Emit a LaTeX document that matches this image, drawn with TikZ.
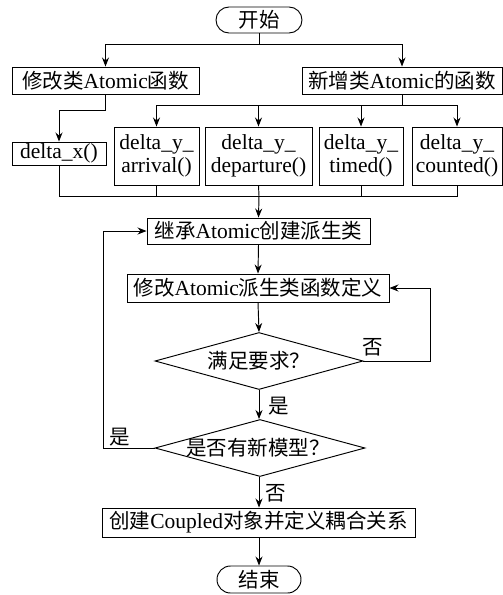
\documentclass[tikz,border=0pt]{standalone}
\usepackage{fontspec}
\setmainfont{Liberation Serif}
\newfontfamily\cjkfont{Noto Sans CJK SC}
\newcommand\zhtxt[1]{{\cjkfont\fontsize{20.5}{24}\selectfont #1}}
\usetikzlibrary{shapes.geometric,shapes.misc,arrows.meta}
\begin{document}
\begin{tikzpicture}[x=1pt,y=-1pt,line width=0.95pt,
  every node/.style={font=\fontsize{21.5}{23.5}\selectfont, inner sep=0pt},
  box/.style={draw, rectangle, align=center},
  term/.style={draw, rounded rectangle, minimum width=86pt, minimum height=26pt},
  dia/.style={draw, diamond, minimum width=208pt, minimum height=57pt},
  lbl/.style={font=\fontsize{20}{24}\selectfont},
  arr/.style={-{Stealth[length=9pt,width=7pt]}}
]
\fill[white] (0,0) rectangle (503,595);
\useasboundingbox (0,0) rectangle (503,595);

% nodes
\node[term] (start) at (259,20) {\zhtxt{开始}};
\node[box, minimum width=187pt, minimum height=27pt] (m1) at (105.5,80.5) {\zhtxt{修改类}Atomic\zhtxt{函数}};
\node[box, minimum width=200pt, minimum height=27pt] (m2) at (402,80.5) {\zhtxt{新增类}Atomic\zhtxt{的函数}};
\node[box, minimum width=94pt, minimum height=23pt] (dx) at (59,153.5) {delta\_x()};
\node[box, minimum width=85pt, minimum height=58pt] (a) at (156.5,156) {delta\_y\_\\arrival()};
\node[box, minimum width=107pt, minimum height=58pt] (d) at (258.5,156) {delta\_y\_\\departure()};
\node[box, minimum width=84pt, minimum height=58pt] (t) at (361,156) {delta\_y\_\\timed()};
\node[box, minimum width=90pt, minimum height=58pt] (c) at (457,156) {delta\_y\_\\counted()};
\node[box, minimum width=223pt, minimum height=26pt] (inh) at (258.5,231) {\zhtxt{继承}Atomic\zhtxt{创建派生类}};
\node[box, minimum width=262pt, minimum height=28pt] (mod) at (258,288) {\zhtxt{修改}Atomic\zhtxt{派生类函数定义}};
\node[dia] (d1) at (259,361) {};
\node (d1t) at (259,361) {\zhtxt{满足要求？}};
\node[dia, minimum width=210pt] (d2) at (260,448) {};
\node (d2t) at (258,448) {\zhtxt{是否有新模型？}};
\node[box, minimum width=313pt, minimum height=29pt] (cp) at (258.5,522.5) {\zhtxt{创建}Coupled\zhtxt{对象并定义耦合关系}};
\node[term, minimum width=84pt, minimum height=27pt] (end) at (259,579.5) {\zhtxt{结束}};

% labels
\node[lbl] (no1) at (373,347) {\zhtxt{否}};
\node[lbl] (yes1) at (279,406) {\zhtxt{是}};
\node[lbl] (yes2) at (120,437) {\zhtxt{是}};
\node[lbl] (no2) at (276,493) {\zhtxt{否}};

% junction coordinates
\coordinate (b1) at (259,44);
\coordinate (b2) at (402,105);
\coordinate (b3) at (259,196);
\coordinate (r1) at (430,361);
\coordinate (l1) at (103,448);

% connectors
\draw (start.south) -- (b1);
\draw[arr] (b1) -| (m1.north);
\draw[arr] (b1) -| (m2.north);
\draw[arr] (m1.south) -- ++(0,16) -| (dx.north);
\draw (m2.south) -- (b2);
\draw[arr] (b2) -| (a.north);
\draw[arr] (b2) -| (d.north);
\draw[arr] (b2) -| (t.north);
\draw[arr] (b2) -| (c.north);
\draw (dx.south) |- (b3);
\draw (a.south) |- (b3);
\draw (d.south) -- (b3);
\draw (t.south) |- (b3);
\draw (c.south) |- (b3);
\draw[arr] (b3) -- (inh.north);
\draw[arr] (inh.south) -- (mod.north);
\draw[arr] (mod.south) -- (d1.north);
\draw[arr] (d1.east) -- (r1) |- (mod.east);
\draw[arr] (d1.south) -- (d2.north -| d1.south);
\draw[arr] (d2.west) -- (l1) |- (inh.west);
\draw[arr] (d2.south -| d1.south) -- (cp.north -| d1.south);
\draw[arr] (cp.south -| end.north) -- (end.north);
\end{tikzpicture}
\end{document}
